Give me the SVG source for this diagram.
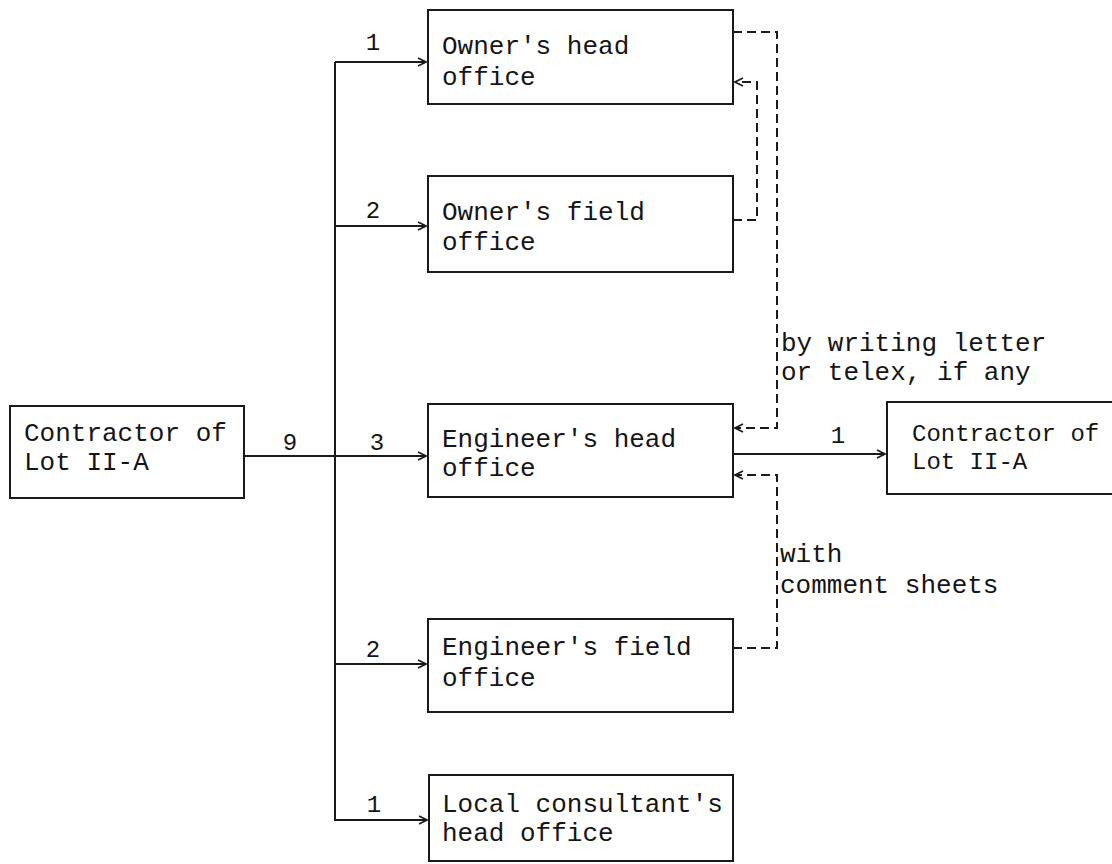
<svg xmlns="http://www.w3.org/2000/svg" width="1112" height="864" viewBox="0 0 1112 864">
<style>
.box{fill:none;stroke:#1a1a1a;stroke-width:2}
.t{font-family:"Liberation Mono","DejaVu Sans Mono",monospace;font-size:26px;fill:#151515}
.s{font-size:24px}
.n{font-family:"Liberation Mono","DejaVu Sans Mono",monospace;font-size:24px;fill:#151515;text-anchor:middle}
.solid{fill:none;stroke:#1a1a1a;stroke-width:2}
.dash{fill:none;stroke:#1a1a1a;stroke-width:2;stroke-dasharray:9 5}
</style>
<defs>
<marker id="ah" viewBox="0 0 10 10" refX="9" refY="5" markerWidth="10" markerHeight="10" markerUnits="userSpaceOnUse" orient="auto">
<path d="M1,1 L9,5 L1,9" fill="none" stroke="#1a1a1a" stroke-width="1.6"/>
</marker>
</defs>
<rect width="1112" height="864" fill="#ffffff"/>

<g id="contractor-left">
<rect class="box" x="10" y="406" width="234" height="92"/>
<text class="t" x="24" y="441">Contractor of</text>
<text class="t" x="24" y="470">Lot II-A</text>
</g>

<g id="owner-head">
<rect class="box" x="428" y="10" width="305" height="94"/>
<text class="t" x="442" y="54">Owner's head</text>
<text class="t" x="442" y="85">office</text>
</g>

<g id="owner-field">
<rect class="box" x="428" y="176" width="305" height="96"/>
<text class="t" x="442" y="220">Owner's field</text>
<text class="t" x="442" y="250">office</text>
</g>

<g id="engineer-head">
<rect class="box" x="428" y="404" width="305" height="93"/>
<text class="t" x="442" y="447">Engineer's head</text>
<text class="t" x="442" y="476">office</text>
</g>

<g id="engineer-field">
<rect class="box" x="428" y="619" width="305" height="93"/>
<text class="t" x="442" y="655">Engineer's field</text>
<text class="t" x="442" y="686">office</text>
</g>

<g id="local-consultant">
<rect class="box" x="429" y="775" width="304" height="86"/>
<text class="t" x="442" y="812">Local consultant's</text>
<text class="t" x="442" y="841">head office</text>
</g>

<g id="contractor-right">
<rect class="box" x="887" y="402" width="240" height="92"/>
<text class="t s" x="912" y="441">Contractor of</text>
<text class="t s" x="912" y="469">Lot II-A</text>
</g>

<g id="connectors">
<path class="solid" d="M244,456 H426" marker-end="url(#ah)"/>
<path class="solid" d="M335,62 V820 H427" marker-end="url(#ah)"/>
<path class="solid" d="M335,62 H426" marker-end="url(#ah)"/>
<path class="solid" d="M335,226 H426" marker-end="url(#ah)"/>
<path class="solid" d="M335,664 H426" marker-end="url(#ah)"/>
<path class="solid" d="M733,454 H885" marker-end="url(#ah)"/>
<path class="dash" d="M733,32 H777 V428 H735" marker-end="url(#ah)"/>
<path class="dash" d="M733,220 H757 V82 H735" marker-end="url(#ah)"/>
<path class="dash" d="M733,648 H777 V475 H735" marker-end="url(#ah)"/>
</g>

<g id="labels">
<text class="n" x="373" y="50">1</text>
<text class="n" x="373" y="218">2</text>
<text class="n" x="290" y="450">9</text>
<text class="n" x="377" y="450">3</text>
<text class="n" x="373" y="657">2</text>
<text class="n" x="374" y="812">1</text>
<text class="n" x="838" y="443">1</text>
<text class="t" x="781" y="351">by writing letter</text>
<text class="t" x="781" y="380">or telex, if any</text>
<text class="t" x="780" y="562">with</text>
<text class="t" x="780" y="593">comment sheets</text>
</g>
</svg>
